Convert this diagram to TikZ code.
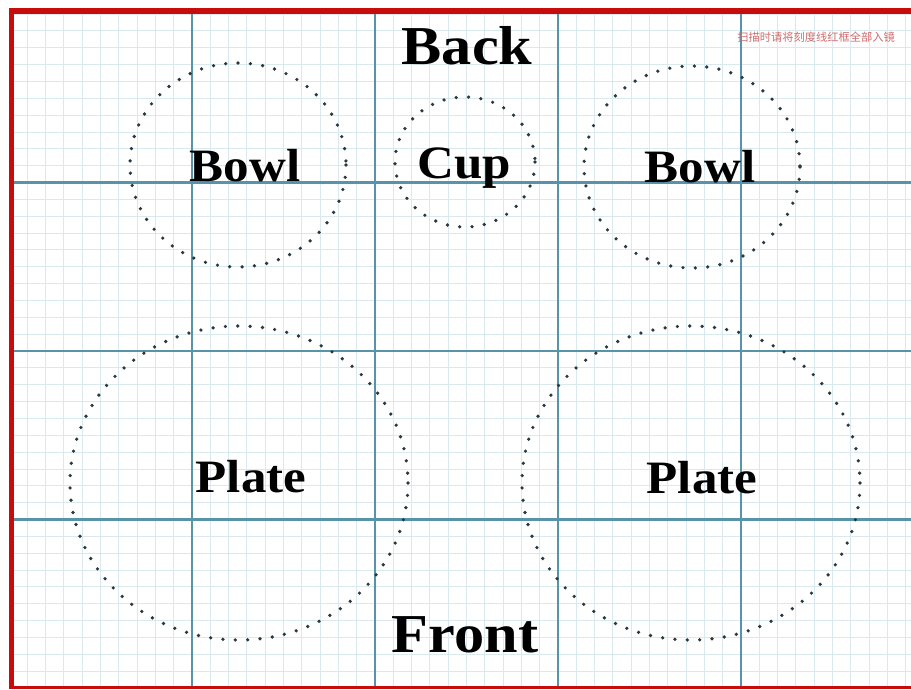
\documentclass[tikz,border=0pt]{standalone}
\usepackage{fontspec}
\setmainfont{Liberation Serif}[BoldFont={Liberation Serif Bold}]
\newfontfamily\cjk{Noto Sans CJK SC}
\usetikzlibrary{positioning}
\definecolor{GridMinor}{RGB}{218,233,238}
\definecolor{GridMajor}{RGB}{88,148,168}
\definecolor{MatRed}{RGB}{200,12,12}
\definecolor{DotGrey}{RGB}{38,56,64}
\definecolor{NoteRed}{RGB}{205,110,110}
\tikzset{
  dish/.style={DotGrey,line width=2.6pt,line cap=round,dash pattern=on 0pt off 8.8pt},
  dishlabel/.style={font=\bfseries\fontsize{33}{33}\selectfont,anchor=base,xscale=1.1,transform shape},
  sidelabel/.style={font=\bfseries\fontsize{39}{39}\selectfont,anchor=base,xscale=1.1,transform shape}
}
\begin{document}
\begin{tikzpicture}[x=0.025cm,y=-0.025cm]
  \useasboundingbox (0,0) rectangle (911,689);
  \fill[white] (0,0) rectangle (911,689);
  % mat grid
  \foreach \i in {0,...,49}
    \draw[GridMinor,line width=0.6pt] ({9+18.3*\i},14) -- ({9+18.3*\i},689);
  \foreach \j in {0,...,40}
    \draw[GridMinor,line width=0.6pt] (9,{14+16.85*\j}) -- (911,{14+16.85*\j});
  \foreach \x in {192,375,558,741}
    \draw[GridMajor,line width=1.8pt] (\x,14) -- (\x,689);
  \foreach \y in {182.5,351,519.5}
    \draw[GridMajor,line width=1.8pt] (9,\y) -- (911,\y);
  % red frame
  \fill[MatRed] (9,8) rectangle (911,14);
  \fill[MatRed] (9,8) rectangle (14,689);
  \fill[MatRed] (9,686) rectangle (911,689);
  \node[NoteRed,font=\cjk\fontsize{8}{8}\selectfont] (note) at (816,37) {扫描时请将刻度线红框全部入镜};
  % dishes
  \draw[dish] (238,165) ellipse [x radius=108,y radius=102];
  \draw[dish] (465,162) ellipse [x radius=70,y radius=65];
  \draw[dish] (692,167) ellipse [x radius=108,y radius=101];
  \draw[dish] (239,483) ellipse [x radius=169,y radius=157];
  \draw[dish] (691,483) ellipse [x radius=169,y radius=157];
  \node[dishlabel] (bowlL) at (245,181) {Bowl};
  \node[dishlabel] (cup) at (464,178) {Cup};
  \node[dishlabel] (bowlR) at (700,182) {Bowl};
  \node[dishlabel] (plateL) at (251,492) {Plate};
  \node[dishlabel] (plateR) at (702,493) {Plate};
  \node[sidelabel] (back) at (467,65) {Back};
  \node[sidelabel] (front) at (465,652) {Front};
\end{tikzpicture}
\end{document}
